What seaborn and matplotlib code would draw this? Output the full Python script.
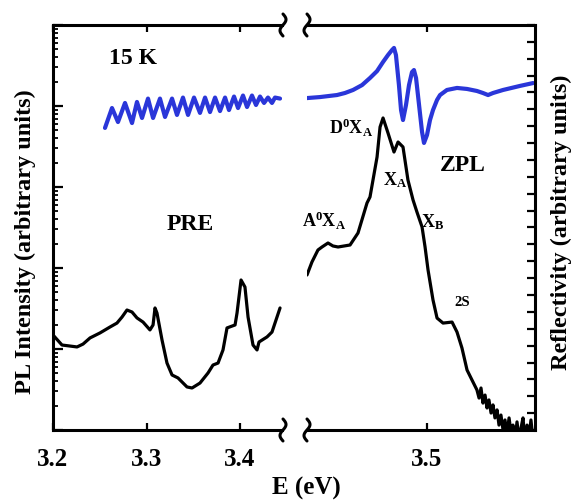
import numpy as np
import matplotlib
matplotlib.use("Agg")
import matplotlib.pyplot as plt
import seaborn as sns
from matplotlib.lines import Line2D
from matplotlib.ticker import LogLocator, NullFormatter, NullLocator

# ---------------- data ----------------
# PL, pre-edge region (left panel)
left_E = [3.200, 3.2096, 3.2257, 3.2321, 3.2396, 3.2503, 3.2610, 3.2684, 3.2738, 3.2791,
          3.2845, 3.2898, 3.2963, 3.3037, 3.3070, 3.3091, 3.3112, 3.3166, 3.3219, 3.3273,
          3.3337, 3.3433, 3.3487, 3.3572, 3.3658, 3.3711, 3.3765, 3.3818, 3.3861, 3.3947,
          3.3968, 3.4011, 3.4053, 3.4086, 3.4139, 3.4182, 3.4203, 3.4289, 3.4342, 3.4428]
left_PL = [14.9, 11.2, 10.6, 11.5, 13.7, 15.8, 18.7, 20.9, 24.8, 30.3,
           28.6, 24.2, 21.5, 17.2, 19.8, 32.1, 27.8, 12.9, 6.71, 4.78,
           4.39, 3.40, 3.30, 3.80, 5.06, 6.34, 6.71, 9.73, 18.2, 19.8,
           27.8, 71.1, 58.2, 24.8, 11.2, 9.73, 12.2, 14.1, 16.2, 32.1]

# PL, near-edge region (right panel)
right_E = [3.4200, 3.4233, 3.4273, 3.4300, 3.4340, 3.4373, 3.4407, 3.4487, 3.4540, 3.4600,
           3.4620, 3.4667, 3.4687, 3.4707, 3.4740, 3.4780, 3.4807, 3.4840, 3.4873, 3.4907,
           3.4933, 3.4967, 3.4987, 3.5007, 3.5040, 3.5067, 3.5107, 3.5167, 3.5200, 3.5233,
           3.5267, 3.5300,
           3.5333, 3.5347, 3.5360, 3.5373, 3.5387, 3.5400, 3.5413, 3.5427, 3.5440, 3.5453,
           3.5467, 3.5480, 3.5493, 3.5507, 3.5520, 3.5533, 3.5547, 3.5560, 3.5573, 3.5587,
           3.5600, 3.5613, 3.5627, 3.5640, 3.5653, 3.5667, 3.5680, 3.5693, 3.5707, 3.5720]
right_PL = [82.0, 118.6, 166.8, 181.7, 203.5, 187.0, 181.7, 192.3, 270.4, 634.3,
            753.0, 2344, 5506, 7112, 4645, 2704, 3593, 3119, 1220, 691,
            491, 321, 182, 94.4, 40.3, 24.1, 20.9, 21.5, 16.2, 10.3,
            5.5, 4.14,
            3.12, 2.48, 3.30, 2.15, 2.70, 1.87, 2.35, 1.62, 2.04, 1.41,
            1.77, 1.15, 1.53, 1.00, 1.33, 0.87, 1.41, 0.94, 1.15, 0.75,
            1.26, 0.80, 1.06, 1.41, 0.75, 1.15, 0.80, 1.33, 0.75, 1.00]

# Reflectivity fringes (left panel)
fringe_E = [3.2556, 3.2631, 3.2695, 3.2770, 3.2845, 3.2898, 3.2952, 3.3016, 3.3070, 3.3144,
            3.3198, 3.3273, 3.3326, 3.3390, 3.3444, 3.3508, 3.3572, 3.3626, 3.3679, 3.3733,
            3.3786, 3.3840, 3.3882, 3.3936, 3.3979, 3.4032, 3.4075, 3.4128, 3.4171, 3.4214,
            3.4257, 3.4299, 3.4342, 3.4374, 3.4428]
fringe_R = [17.90, 19.08, 18.25, 19.38, 18.19, 19.44, 18.49, 19.64, 18.49, 19.64,
            18.55, 19.64, 18.67, 19.70, 18.67, 19.70, 18.79, 19.70, 18.84, 19.70,
            18.90, 19.70, 18.96, 19.76, 19.08, 19.82, 19.14, 19.82, 19.26, 19.76,
            19.38, 19.70, 19.38, 19.70, 19.64]

# Reflectivity near the excitons (right panel)
refl_E = [3.4200, 3.4287, 3.4400, 3.4453, 3.4507, 3.4567, 3.4620, 3.4667, 3.4707, 3.4740,
          3.4767, 3.4780, 3.4793, 3.4813, 3.4827, 3.4840, 3.4860, 3.4880, 3.4900, 3.4913,
          3.4927, 3.4947, 3.4967, 3.4980, 3.5000, 3.5020, 3.5040, 3.5067, 3.5087, 3.5133,
          3.5200, 3.5267, 3.5333, 3.5373, 3.5407, 3.5440, 3.5507, 3.5620, 3.5707]
refl_R = [19.67, 19.73, 19.85, 19.97, 20.15, 20.44, 20.86, 21.27, 21.81, 22.22,
          22.52, 22.64, 22.22, 20.44, 18.96, 18.37, 19.26, 20.44, 21.21, 21.33,
          20.86, 19.26, 17.66, 17.01, 17.48, 18.37, 18.96, 19.56, 19.85, 20.15,
          20.27, 20.21, 20.09, 19.97, 19.85, 19.97, 20.15, 20.39, 20.56]

left_ticks = [3.2, 3.3, 3.4]
left_ticklabels = ["3.2", "3.3", "3.4"]
right_ticks = [3.5]
right_ticklabels = ["3.5"]

# ---------------- style ----------------
sns.set_theme(style="ticks")
plt.rcParams["font.family"] = ["Liberation Serif", "DejaVu Serif"]
plt.rcParams["font.weight"] = "bold"
plt.rcParams["text.color"] = "black"
plt.rcParams["axes.labelcolor"] = "black"
plt.rcParams["xtick.color"] = "black"
plt.rcParams["ytick.color"] = "black"
plt.rcParams["xtick.labelcolor"] = "black"
plt.rcParams["mathtext.fontset"] = "custom"
plt.rcParams["mathtext.rm"] = "Liberation Serif:bold"
plt.rcParams["mathtext.it"] = "Liberation Serif:bold"
plt.rcParams["mathtext.bf"] = "Liberation Serif:bold"

W, H = 583, 500
fig = plt.figure(figsize=(W / 100, H / 100), dpi=100)
fig.patch.set_facecolor("white")


def fx(x):
    return np.asarray(x) / W


def fy(y):
    return 1 - np.asarray(y) / H


LW_SP = 2.2
BLUE = "#2a36d9"
axL = fig.add_axes([fx(53), fy(430), fx(282) - fx(53), fy(25) - fy(430)])
axR = fig.add_axes([fx(307), fy(430), fx(535) - fx(307), fy(25) - fy(430)])

for ax in (axL, axR):
    ax.set_facecolor("white")
    ax.set_yscale("log")
    ax.set_ylim(1, 1e5)

axL.set_xlim(3.2, 3.4449)
axR.set_xlim(3.42, 3.572)

sns.lineplot(x=left_E, y=left_PL, ax=axL, color="black", lw=2.3,
             sort=False, estimator=None)
sns.lineplot(x=right_E, y=right_PL, ax=axR, color="black", lw=2.3,
             sort=False, estimator=None)

tL = axL.twinx()
tR = axR.twinx()
for t in (tL, tR):
    t.set_ylim(0, 24)
sns.lineplot(x=fringe_E, y=fringe_R, ax=tL, color=BLUE, lw=3.0,
             sort=False, estimator=None)
sns.lineplot(x=refl_E, y=refl_R, ax=tR, color=BLUE, lw=3.0,
             sort=False, estimator=None)

# spines
axL.spines["right"].set_visible(False)
axR.spines["left"].set_visible(False)
axR.spines["right"].set_visible(False)
for s in tL.spines.values():
    s.set_visible(False)
for k in ("left", "top", "bottom"):
    tR.spines[k].set_visible(False)
for ax in (axL, axR, tR):
    for s in ax.spines.values():
        s.set_linewidth(LW_SP)
        s.set_color("black")

# y ticks (log, left)
axL.yaxis.set_major_locator(LogLocator(base=10, numticks=10))
axL.yaxis.set_minor_locator(LogLocator(base=10, subs=np.arange(2, 10), numticks=20))
axL.yaxis.set_major_formatter(NullFormatter())
axL.yaxis.set_minor_formatter(NullFormatter())
axL.tick_params(axis="y", which="major", direction="in", length=7, width=1.6,
                left=True, right=False, labelleft=False, color="black")
axL.tick_params(axis="y", which="minor", direction="in", length=3.5, width=1.3,
                left=True, right=False, color="black")
axR.tick_params(axis="y", which="both", left=False, right=False,
                labelleft=False, labelright=False)
tL.set_yticks([])
tL.tick_params(axis="y", which="both", left=False, right=False)
tR.set_yticks(np.arange(0, 25, 1))
tR.tick_params(axis="y", which="both", direction="in", length=6, width=1.6,
               right=True, labelright=False, color="black")
tR.set_ylabel("")
tL.set_ylabel("")

# x ticks
axL.set_xticks(left_ticks)
axL.set_xticklabels(left_ticklabels)
axR.set_xticks(right_ticks)
axR.set_xticklabels(right_ticklabels)
for ax in (axL, axR):
    ax.xaxis.set_minor_locator(NullLocator())
    ax.tick_params(axis="x", which="major", direction="in", top=True, bottom=True,
                   length=5, width=1.6, pad=13, labelsize=18, color="black",
                   labelcolor="black")
    for lab in ax.get_xticklabels():
        lab.set_fontweight("bold")
    ax.set_xlabel("")
    ax.set_ylabel("")


# axis-break marks
def brk(xc, yc):
    t = np.linspace(-1, 1, 40)
    xs = xc - 3.0 * np.sin(np.pi * t)
    ys = yc + 11 * t
    fig.add_artist(Line2D(fx(xs), fy(ys), transform=fig.transFigure,
                          color="black", lw=2.2, solid_capstyle="round"))


for xc in (283, 307):
    for yc in (25, 430):
        brk(xc, yc)

# axis labels
fig.text(fx(25), fy(242), "PL Intensity (arbitrary units)", rotation=90,
         ha="center", va="center", fontsize=17.5, fontweight="bold", color="black")
fig.text(fx(561), fy(222), "Reflectivity (arbitrary units)", rotation=90,
         ha="center", va="center", fontsize=17.5, fontweight="bold", color="black")
fig.text(fx(306), fy(488), "E (eV)", ha="center", va="center",
         fontsize=18, fontweight="bold", color="black")

# annotations
fig.text(fx(133), fy(59), "15 K", ha="center", va="center", fontsize=17, fontweight="bold")
fig.text(fx(190), fy(225), "PRE", ha="center", va="center", fontsize=17, fontweight="bold")
fig.text(fx(463), fy(165), "ZPL", ha="center", va="center", fontsize=17, fontweight="bold")
fig.text(fx(351), fy(128), r"D$^{0}$X$_{\mathrm{A}}$", ha="center", va="center",
         fontsize=13, fontweight="bold")
fig.text(fx(395), fy(180), r"X$_{\mathrm{A}}$", ha="center", va="center",
         fontsize=13, fontweight="bold")
fig.text(fx(324), fy(221), r"A$^{0}$X$_{\mathrm{A}}$", ha="center", va="center",
         fontsize=13, fontweight="bold")
fig.text(fx(433), fy(222), r"X$_{\mathrm{B}}$", ha="center", va="center",
         fontsize=13, fontweight="bold")
fig.text(fx(462), fy(302), "2S", ha="center", va="center", fontsize=10.5, fontweight="bold")

fig.savefig("out.png", dpi=100, facecolor="white")
